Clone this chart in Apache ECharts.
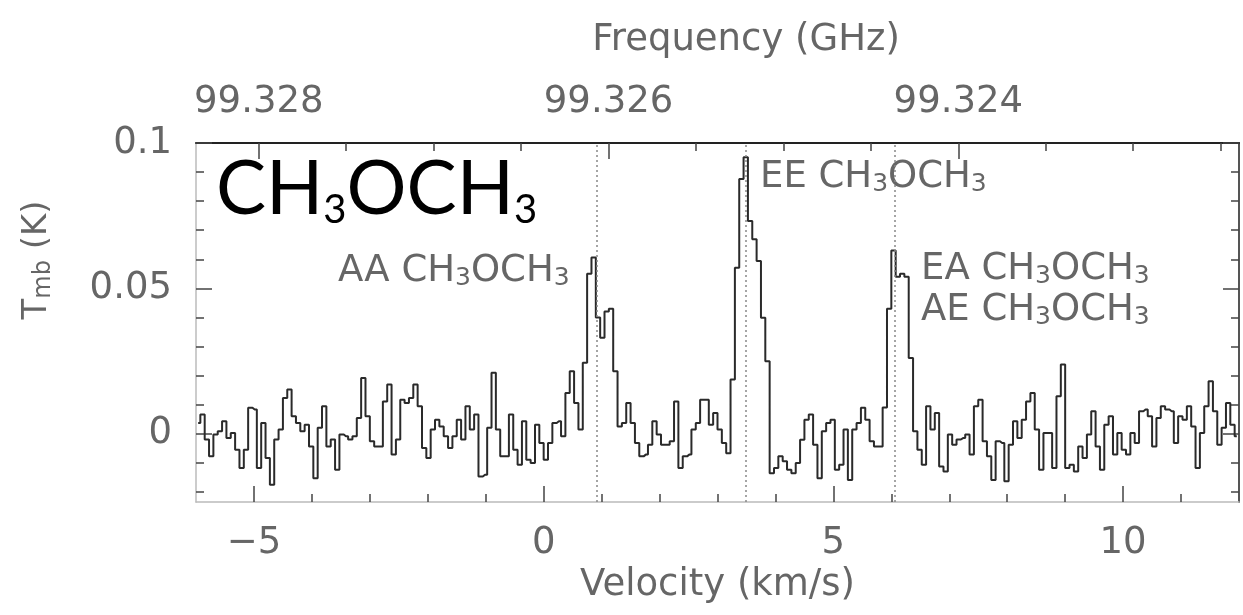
<!DOCTYPE html>
<html><head><meta charset="utf-8">
<script src="https://cdn.jsdelivr.net/npm/echarts@6/dist/echarts.min.js"></script>
<style>html,body{margin:0;padding:0;background:#fff}#c{width:1243px;height:615px}</style>
</head><body><div id="c"></div>
<script>
// Channel grid of the spectrum (km/s)
const V0 = -6, DV = 0.075;
// Main-beam temperature per channel (K)
const tmb = [
 0.0037, 0.0066, -0.002, -0.0078, -0.0003, 0.0008, 0.0043, -0.0015, 0.0002, -0.0055,
 -0.0118, -0.0055, 0.0089, 0.0083, -0.0118, 0.0037, -0.0084, -0.0176, -0.002, 0.0014,
 0.0123, 0.0152, 0.006, 0.0037, 0.0008, 0.0031, -0.0044, -0.0153, 0.002, 0.0094,
 -0.0044, -0.002, -0.0124, -0.0003,
 -0.0009, -0.002, -0.0009, 0.0054, 0.0192, 0.006, -0.0026, -0.0044, -0.0044, 0.0111,
 0.0169, -0.0072, -0.002, 0.0117, 0.0106, 0.0123, 0.0169, 0.0094, -0.0049, -0.0084,
 0.0014, 0.0048, 0.0025, -0.0009, -0.0049, -0.0009, 0.0048, -0.002, 0.0094, 0.0014,
 0.0066, -0.0147, -0.0141, 0.002, 0.021,
 0.0014, -0.0078, -0.0078, 0.0066, -0.0055, -0.0107, 0.0043, -0.009, -0.0101, 0.0031,
 -0.0032, -0.009, -0.0032, 0.0037, 0.0043, -0.0009, 0.014, 0.0215, 0.0106, 0.0014,
 0.0244, 0.055, 0.0606, 0.040, 0.033, 0.042, 0.043, 0.0215, 0.0025, 0.0037,
 0.0106, 0.0037, -0.0032, -0.0078,
 -0.0072, -0.0038, 0.0043, -0.0003, -0.0038, -0.0038, -0.0026, 0.0111, -0.0118, -0.0078,
 -0.0072, 0.0014, 0.0037, 0.0117, 0.0117, 0.0031, 0.0071, 0.0014, -0.0032, -0.0067,
 0.0186, 0.0571, 0.0876, 0.0951, 0.0732, 0.0669, 0.0594, 0.0399, 0.0249, -0.0136,
 -0.0118, -0.0078, -0.0095, -0.0124, -0.0136,
 -0.0101, -0.0021, 0.0048, 0.0066, -0.0038, -0.0153, 0.0008, 0.0037, 0.0048, -0.0124,
 -0.0107, 0.0014, -0.0159, 0.0014, 0.0037, 0.0089, 0.0048, -0.0026, -0.0044, -0.0044,
 0.009, 0.043, 0.063, 0.054, 0.055, 0.054, 0.026, 0.0008, -0.0055, -0.0107,
 0.0094, 0.0014, 0.0071, -0.0113,
 -0.013, -0.0003, -0.0038, -0.002, -0.0015, -0.0003, -0.0072, 0.0094, 0.0117, -0.0026,
 -0.0078, -0.0159, -0.0026, -0.0032, -0.0164, -0.0038, 0.0043, -0.0015, 0.0048, 0.0111,
 0.014, 0.0014, -0.0124, 0.0002, 0.0002, -0.0118, 0.0129, 0.0238, -0.0118, -0.0107,
 -0.013, -0.0044, -0.0084, -0.0003,
 0.0077, -0.0044, -0.0124, 0.0031, 0.006, -0.0072, 0.0002, -0.0055, -0.0072, 0.0002,
 -0.0032, 0.0077, 0.0083, 0.006, -0.0044, 0.0054, 0.0094, 0.0083, 0.0077, -0.0032,
 0.006, 0.0048, 0.0094, 0.0025, -0.0118, 0.0002, 0.0094, 0.018, 0.0077, -0.0038,
 0.002, 0.0106, 0.0031, -0.0009
];
const velTickLabels = [-5, 0, 5, 10];
const velMinorTicks = [-4, -3, -2, -1, 1, 2, 3, 4, 6, 7, 8, 9, 11];
const freqTickLabels = [99.328, 99.326, 99.324];
const freqMinorTicks = [99.3275, 99.327, 99.3265, 99.3255, 99.325, 99.3245, 99.3235, 99.323, 99.3225];
const tmbTickLabels = [0, 0.05, 0.1];
const tmbMinorTicks = [-0.02, -0.01, 0.01, 0.02, 0.03, 0.04, 0.06, 0.07, 0.08, 0.09];
const lineVelocities = [0.91, 3.49, 6.06];
const lineLabels = ['AA', 'EE', 'EA', 'AE'];
const F_REF = 99.326, V_REF = 1.12, C_KMS = 299792.458;
const f2v = f => V_REF + (F_REF - f) * C_KMS / F_REF;
const v2f = v => F_REF - (v - V_REF) * F_REF / C_KMS;

const GRAY = '#666', FONT = 'DejaVu Sans', FS = 37;
const xBase = {type: 'value', min: -6, max: 12, splitLine: {show: false}};
const yBase = {type: 'value', min: -0.0235, max: 0.1, splitLine: {show: false}};
const tickStyle = {color: '#444', width: 1.5};

const chart = echarts.init(document.getElementById('c'));
const mol = '{m|CH}{s|3}{m|OCH}{s|3}';
const annRich = {
  m: {fontFamily: FONT, fontSize: FS, fill: GRAY, lineHeight: 40},
  s: {fontFamily: FONT, fontSize: 25, fill: GRAY, lineHeight: 12, verticalAlign: 'bottom'}
};
const ann = (label, x, y) => ({type: 'text', x: x, y: y, silent: true,
  style: {text: '{m|' + label + ' }' + mol, rich: annRich, verticalAlign: 'middle', align: 'left'}});

chart.setOption({
  animation: false,
  grid: {left: 196, right: 4, top: 143, bottom: 113},
  xAxis: [
    Object.assign({}, xBase, {position: 'bottom',
      axisLine: {onZero: false, lineStyle: {color: '#bbb', width: 1.5}},
      axisTick: {inside: true, length: 16, customValues: velTickLabels, lineStyle: tickStyle},
      axisLabel: {customValues: velTickLabels, margin: 23, color: GRAY, fontFamily: FONT, fontSize: FS,
        formatter: v => v < 0 ? '\u2212' + Math.abs(v) : String(v)},
      name: 'Velocity (km/s)', nameLocation: 'middle', nameGap: 65,
      nameTextStyle: {color: GRAY, fontFamily: FONT, fontSize: FS}}),
    Object.assign({}, xBase, {position: 'bottom',
      axisLine: {show: false, onZero: false},
      axisTick: {inside: true, length: 8, customValues: velMinorTicks, lineStyle: tickStyle},
      axisLabel: {show: false}}),
    Object.assign({}, xBase, {position: 'top',
      axisLine: {onZero: false, lineStyle: {color: '#222', width: 2}},
      axisTick: {inside: true, length: 16, customValues: freqTickLabels.map(f2v), lineStyle: tickStyle},
      axisLabel: {customValues: freqTickLabels.map(f2v), margin: 22, color: GRAY, fontFamily: FONT, fontSize: FS,
        formatter: v => v2f(v).toFixed(3)},
      name: 'Frequency (GHz)', nameLocation: 'middle', nameGap: 84,
      nameTextStyle: {color: GRAY, fontFamily: FONT, fontSize: FS, padding: [0, 0, 0, 57]}}),
    Object.assign({}, xBase, {position: 'top',
      axisLine: {show: false, onZero: false},
      axisTick: {inside: true, length: 8, customValues: freqMinorTicks.map(f2v), lineStyle: tickStyle},
      axisLabel: {show: false}})
  ],
  yAxis: [
    Object.assign({}, yBase, {position: 'left',
      axisLine: {show: true, onZero: false, lineStyle: {color: '#bbb', width: 1.5}},
      axisTick: {show: true, inside: true, length: 16, customValues: tmbTickLabels, lineStyle: tickStyle},
      axisLabel: {customValues: tmbTickLabels, margin: 24, color: GRAY, fontFamily: FONT, fontSize: FS}}),
    Object.assign({}, yBase, {position: 'left',
      axisLine: {show: false, onZero: false},
      axisTick: {show: true, inside: true, length: 8, customValues: tmbMinorTicks, lineStyle: tickStyle},
      axisLabel: {show: false}}),
    Object.assign({}, yBase, {position: 'right',
      axisLine: {show: true, onZero: false, lineStyle: {color: '#555', width: 2}},
      axisTick: {show: true, inside: true, length: 16, customValues: tmbTickLabels, lineStyle: tickStyle},
      axisLabel: {show: false}}),
    Object.assign({}, yBase, {position: 'right',
      axisLine: {show: false, onZero: false},
      axisTick: {show: true, inside: true, length: 8, customValues: tmbMinorTicks, lineStyle: tickStyle},
      axisLabel: {show: false}})
  ],
  series: [{
    type: 'line', xAxisIndex: 0, yAxisIndex: 0, step: 'middle', showSymbol: false, symbol: 'none',
    lineStyle: {color: '#2a2a2a', width: 2},
    data: tmb.map((t, i) => [V0 + DV * (i + 0.5), t]),
    markLine: {silent: true, symbol: ['none', 'none'], label: {show: false},
      lineStyle: {type: [2, 3], color: '#888', width: 1.5},
      data: lineVelocities.map(v => ({xAxis: v}))}
  }],
  graphic: [
    {type: 'text', x: 216, y: 190, silent: true,
      style: {text: mol, align: 'left', verticalAlign: 'middle', rich: {
        m: {fontFamily: 'Lato', fontSize: 75, fill: '#000', lineHeight: 80},
        s: {fontFamily: 'Lato', fontSize: 40, fill: '#000', lineHeight: 47, verticalAlign: 'bottom'}}}},
    ann(lineLabels[0], 338, 271),
    ann(lineLabels[1], 760, 177),
    ann(lineLabels[2], 921, 269),
    ann(lineLabels[3], 921, 310),
    {type: 'text', x: 37, y: 260, rotation: Math.PI / 2, silent: true,
      style: {text: '{t|T}{s|mb}{t| (K)}', align: 'center', verticalAlign: 'middle', rich: {
        t: {fontFamily: FONT, fontSize: 34, fill: GRAY, lineHeight: 38},
        s: {fontFamily: FONT, fontSize: 24, fill: GRAY, lineHeight: 16, verticalAlign: 'bottom'}}}}
  ]
});
</script></body></html>
